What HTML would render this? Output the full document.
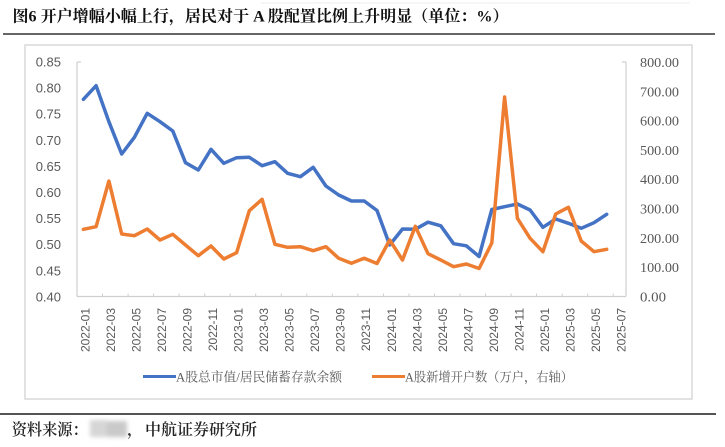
<!DOCTYPE html>
<html>
<head>
<meta charset="utf-8">
<style>
  html,body{margin:0;padding:0;background:#fff;}
  svg{display:block;}
  .ax{font-family:"Liberation Sans","Noto Sans CJK SC",sans-serif;font-size:13px;fill:#595959;}
  .axr{font-family:"Liberation Serif","Noto Serif CJK SC",serif;font-size:14px;fill:#595959;}
  .xl{font-family:"Liberation Sans","Noto Sans CJK SC",sans-serif;font-size:12px;fill:#595959;}
  .lg{font-family:"Liberation Serif","Noto Serif CJK SC",serif;font-size:13px;fill:#595959;}
  .tt{font-family:"Liberation Serif","Noto Serif CJK SC",serif;font-size:16px;font-weight:700;fill:#111;}
  .ft{font-family:"Liberation Serif","Noto Serif CJK SC",serif;font-size:16px;font-weight:600;fill:#222;}
</style>
</head>
<body>
<svg width="725" height="447" viewBox="0 0 725 447" xmlns="http://www.w3.org/2000/svg">
  <defs>
    <filter id="bl" x="-30%" y="-30%" width="160%" height="160%">
      <feGaussianBlur stdDeviation="2"/>
    </filter>
  </defs>
  <rect width="725" height="447" fill="#fff"/>
  <!-- faint top line -->
  <line x1="261" y1="3" x2="690" y2="3" stroke="#eeeeee" stroke-width="1"/>
  <!-- title -->
  <text class="tt" x="12.5" y="21.5" textLength="496" lengthAdjust="spacingAndGlyphs">图6 开户增幅小幅上行，居民对于 A 股配置比例上升明显（单位：%）</text>
  <line x1="3" y1="34" x2="715" y2="34" stroke="#666" stroke-width="2"/>
  <!-- chart frame -->
  <rect x="25" y="45" width="667" height="354" fill="#fff" stroke="#d9d9d9" stroke-width="1.5"/>

  <!-- axes -->
  <g stroke="#cfcfcf" stroke-width="1.2" fill="none">
    <line x1="77" y1="62" x2="77" y2="296.5"/>
    <line x1="77" y1="62" x2="81" y2="62"/>
    <line x1="626" y1="62" x2="626" y2="296.5"/>
    <line x1="622" y1="62" x2="626" y2="62"/>
    <line x1="77" y1="296.5" x2="626" y2="296.5"/>
  </g>
  <g stroke="#cfcfcf" stroke-width="1" id="xticks"></g>

  <!-- left axis labels -->
  <g class="ax" text-anchor="end">
    <text x="61" y="66.5">0.85</text>
    <text x="61" y="92.6">0.80</text>
    <text x="61" y="118.7">0.75</text>
    <text x="61" y="144.8">0.70</text>
    <text x="61" y="170.9">0.65</text>
    <text x="61" y="197.0">0.60</text>
    <text x="61" y="223.1">0.55</text>
    <text x="61" y="249.2">0.50</text>
    <text x="61" y="275.3">0.45</text>
    <text x="61" y="301.4">0.40</text>
  </g>
  <!-- right axis labels -->
  <g class="axr">
    <text x="640" y="67" textLength="39" lengthAdjust="spacingAndGlyphs">800.00</text>
    <text x="640" y="96.3" textLength="39" lengthAdjust="spacingAndGlyphs">700.00</text>
    <text x="640" y="125.6" textLength="39" lengthAdjust="spacingAndGlyphs">600.00</text>
    <text x="640" y="154.9" textLength="39" lengthAdjust="spacingAndGlyphs">500.00</text>
    <text x="640" y="184.2" textLength="39" lengthAdjust="spacingAndGlyphs">400.00</text>
    <text x="640" y="213.6" textLength="39" lengthAdjust="spacingAndGlyphs">300.00</text>
    <text x="640" y="242.9" textLength="39" lengthAdjust="spacingAndGlyphs">200.00</text>
    <text x="640" y="272.2" textLength="39" lengthAdjust="spacingAndGlyphs">100.00</text>
    <text x="640" y="301.5" textLength="26" lengthAdjust="spacingAndGlyphs">0.00</text>
  </g>

  <!-- x ticks -->
  <g stroke="#cfcfcf" stroke-width="1">
    <line x1="102.5" y1="293.5" x2="102.5" y2="296.5"/>
    <line x1="128.1" y1="293.5" x2="128.1" y2="296.5"/>
    <line x1="153.6" y1="293.5" x2="153.6" y2="296.5"/>
    <line x1="179.1" y1="293.5" x2="179.1" y2="296.5"/>
    <line x1="204.7" y1="293.5" x2="204.7" y2="296.5"/>
    <line x1="230.2" y1="293.5" x2="230.2" y2="296.5"/>
    <line x1="255.7" y1="293.5" x2="255.7" y2="296.5"/>
    <line x1="281.3" y1="293.5" x2="281.3" y2="296.5"/>
    <line x1="306.8" y1="293.5" x2="306.8" y2="296.5"/>
    <line x1="332.3" y1="293.5" x2="332.3" y2="296.5"/>
    <line x1="357.9" y1="293.5" x2="357.9" y2="296.5"/>
    <line x1="383.4" y1="293.5" x2="383.4" y2="296.5"/>
    <line x1="409.0" y1="293.5" x2="409.0" y2="296.5"/>
    <line x1="434.5" y1="293.5" x2="434.5" y2="296.5"/>
    <line x1="460.0" y1="293.5" x2="460.0" y2="296.5"/>
    <line x1="485.6" y1="293.5" x2="485.6" y2="296.5"/>
    <line x1="511.1" y1="293.5" x2="511.1" y2="296.5"/>
    <line x1="536.6" y1="293.5" x2="536.6" y2="296.5"/>
    <line x1="562.2" y1="293.5" x2="562.2" y2="296.5"/>
    <line x1="587.7" y1="293.5" x2="587.7" y2="296.5"/>
    <line x1="613.2" y1="293.5" x2="613.2" y2="296.5"/>
  </g>

  <!-- x labels (rotated) -->
  <g class="xl" text-anchor="end">
    <text transform="translate(89.4,308) rotate(-90)">2022-01</text>
    <text transform="translate(114.9,308) rotate(-90)">2022-03</text>
    <text transform="translate(140.4,308) rotate(-90)">2022-05</text>
    <text transform="translate(166.0,308) rotate(-90)">2022-07</text>
    <text transform="translate(191.5,308) rotate(-90)">2022-09</text>
    <text transform="translate(217.0,308) rotate(-90)">2022-11</text>
    <text transform="translate(242.6,308) rotate(-90)">2023-01</text>
    <text transform="translate(268.1,308) rotate(-90)">2023-03</text>
    <text transform="translate(293.6,308) rotate(-90)">2023-05</text>
    <text transform="translate(319.2,308) rotate(-90)">2023-07</text>
    <text transform="translate(344.7,308) rotate(-90)">2023-09</text>
    <text transform="translate(370.2,308) rotate(-90)">2023-11</text>
    <text transform="translate(395.8,308) rotate(-90)">2024-01</text>
    <text transform="translate(421.3,308) rotate(-90)">2024-03</text>
    <text transform="translate(446.8,308) rotate(-90)">2024-05</text>
    <text transform="translate(472.4,308) rotate(-90)">2024-07</text>
    <text transform="translate(497.9,308) rotate(-90)">2024-09</text>
    <text transform="translate(523.4,308) rotate(-90)">2024-11</text>
    <text transform="translate(549.0,308) rotate(-90)">2025-01</text>
    <text transform="translate(574.5,308) rotate(-90)">2025-03</text>
    <text transform="translate(600.0,308) rotate(-90)">2025-05</text>
    <text transform="translate(625.6,308) rotate(-90)">2025-07</text>
  </g>

  <!-- blue series -->
  <polyline fill="none" stroke="#4472C4" stroke-width="3.5" stroke-linejoin="round" stroke-linecap="round"
    points="83.4,99.3 96.1,85.7 108.9,121.7 121.7,154 134.4,137.3 147.2,113.3 160,121.7 172.8,131 185.5,162.7 198.3,170 211,149.3 223.8,163.3 236.6,157.7 249.3,157.3 262.1,165.7 274.9,161.7 287.6,173.3 300.4,176.7 313.2,167.3 325.9,186 338.7,195 351.4,201 364.2,201 377,210.5 389.7,245 402.5,229 415.3,229.3 428,222.2 440.8,225.8 453.6,243.7 466.3,245.8 479.1,256.5 491.8,209.5 504.6,206.7 517.4,204 530.1,210 542.9,227.3 555.7,219 568.4,223.3 581.2,228.3 594,222.7 606.7,214.3"/>
  <!-- orange series -->
  <polyline fill="none" stroke="#ED7D31" stroke-width="3.5" stroke-linejoin="round" stroke-linecap="round"
    points="83.4,229.3 96.1,226.7 108.9,181 121.7,234 134.4,235.7 147.2,229 160,240 172.8,234.3 185.5,245 198.3,255.7 211,246 223.8,259 236.6,252.7 249.3,210.7 262.1,199.3 274.9,244.3 287.6,247.3 300.4,246.7 313.2,250.7 325.9,246.7 338.7,258.3 351.4,263.3 364.2,258.3 377,263.5 389.7,240 402.5,260 415.3,226.3 428,253.7 440.8,260 453.6,266.7 466.3,264 479.1,268.5 491.8,243 504.6,97 517.4,218.3 530.1,238.3 542.9,251.7 555.7,214 568.4,207.3 581.2,241 594,251.7 606.7,249.3"/>

  <!-- legend -->
  <line x1="143" y1="376.5" x2="176" y2="376.5" stroke="#4472C4" stroke-width="3"/>
  <text class="lg" x="176" y="381.5" textLength="166" lengthAdjust="spacingAndGlyphs">A股总市值/居民储蓄存款余额</text>
  <line x1="372" y1="376.5" x2="405" y2="376.5" stroke="#ED7D31" stroke-width="3"/>
  <text class="lg" x="405" y="381.5" textLength="168" lengthAdjust="spacingAndGlyphs">A股新增开户数（万户，右轴）</text>

  <!-- footer -->
  <line x1="0" y1="414" x2="716" y2="414" stroke="#555" stroke-width="2"/>
  <text class="ft" x="11.7" y="435" textLength="76" lengthAdjust="spacingAndGlyphs">资料来源：</text>
  <g filter="url(#bl)">
    <rect x="90" y="420" width="17" height="17" fill="#d6d6d6"/>
    <rect x="107" y="421" width="20" height="16" fill="#c9c9c9"/>
  </g>
  <text class="ft" x="127" y="435">，</text>
  <text class="ft" x="145" y="435" textLength="112" lengthAdjust="spacingAndGlyphs">中航证券研究所</text>
</svg>
</body>
</html>
